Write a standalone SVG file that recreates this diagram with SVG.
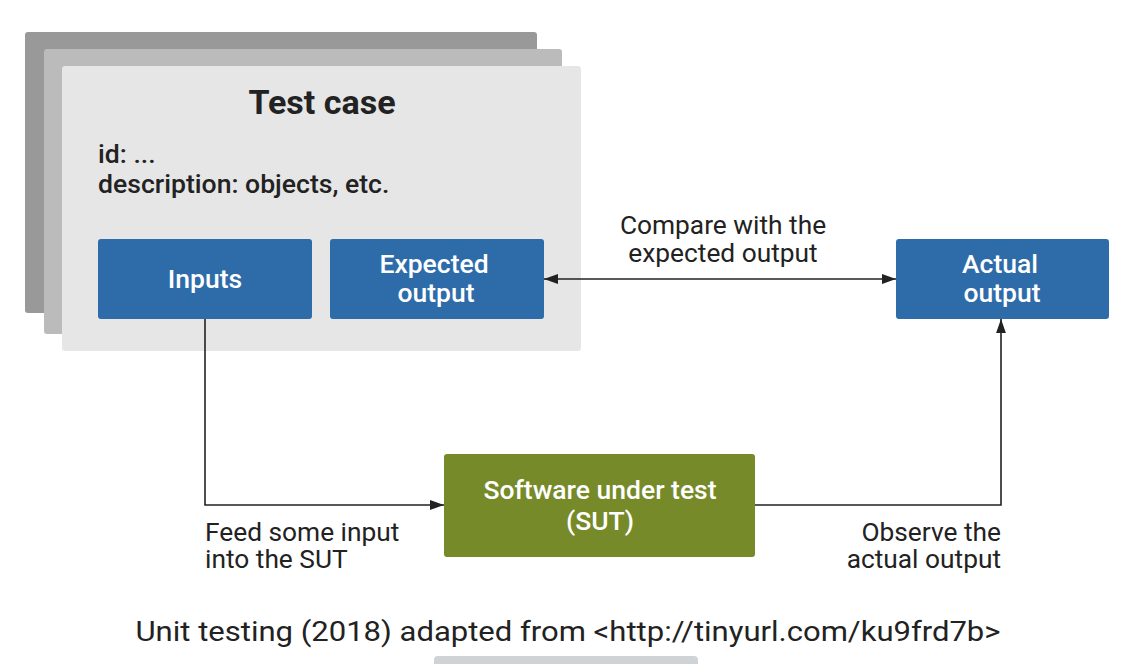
<svg xmlns="http://www.w3.org/2000/svg" width="1136" height="664" viewBox="0 0 1136 664">
<defs>
<style>
text{font-family:Roboto,"Liberation Sans",sans-serif;}
.box{fill:#2e6ca9;}
.wt{fill:#ffffff;font-size:26.5px;font-weight:500;text-anchor:middle;}
.lbl{fill:#222222;font-size:26.3px;}
.meta{fill:#222222;font-size:26.6px;font-weight:500;}
.edge{fill:none;stroke:#222222;stroke-width:1.6;}
</style>
<marker id="ah" viewBox="0 0 10 10" refX="10" refY="5" markerWidth="14" markerHeight="14" markerUnits="userSpaceOnUse" orient="auto-start-reverse">
<path d="M0,1.5 L10,5 L0,8.5 z" fill="#222222"/>
</marker>
</defs>
<rect width="1136" height="664" fill="#ffffff"/>
<g id="testcase-stack">
<rect x="25" y="32" width="512" height="281" rx="3" fill="#999999"/>
<rect x="44" y="49" width="518" height="285" rx="3" fill="#bbbbbb"/>
<rect x="62" y="66" width="519" height="285" rx="3" fill="#e6e6e6"/>
<text x="322" y="114" text-anchor="middle" font-size="34" font-weight="700" fill="#222222">Test case</text>
<text class="meta" x="98" y="163">id: ...</text>
<text class="meta" x="98" y="193">description: objects, etc.</text>
</g>
<g id="inputs">
<rect class="box" x="98" y="239" width="214" height="80" rx="3"/>
<text class="wt" x="205" y="288">Inputs</text>
</g>
<g id="expected-output">
<rect class="box" x="330" y="239" width="214" height="80" rx="3"/>
<text class="wt" x="434" y="273">Expected</text>
<text class="wt" x="436" y="302">output</text>
</g>
<g id="actual-output">
<rect class="box" x="896" y="239" width="213" height="80" rx="3"/>
<text class="wt" x="1000" y="273">Actual</text>
<text class="wt" x="1002" y="302">output</text>
</g>
<g id="sut">
<rect x="444" y="454" width="311" height="103" rx="3" fill="#778a29"/>
<text class="wt" x="600" y="499">Software under test</text>
<text class="wt" x="600" y="530">(SUT)</text>
</g>
<g id="connectors">
<path class="edge" d="M205,319 V505 H444" marker-end="url(#ah)"/>
<path class="edge" d="M755,505 H1001 V319" marker-end="url(#ah)"/>
<path class="edge" d="M544,279 H896" marker-start="url(#ah)" marker-end="url(#ah)"/>
</g>
<g id="labels">
<text class="lbl" x="723" y="234" text-anchor="middle">Compare with the</text>
<text class="lbl" x="723" y="262" text-anchor="middle">expected output</text>
<text class="lbl" x="205" y="541">Feed some input</text>
<text class="lbl" x="205" y="568">into the SUT</text>
<text class="lbl" x="1001" y="541" text-anchor="end">Observe the</text>
<text class="lbl" x="1001" y="568" text-anchor="end">actual output</text>
</g>
<text x="568" y="641" text-anchor="middle" font-size="28" fill="#222222" textLength="865" lengthAdjust="spacingAndGlyphs">Unit testing (2018) adapted from &lt;http://tinyurl.com/ku9frd7b&gt;</text>
<rect x="434" y="656" width="264" height="14" rx="4" fill="#d0d3d6"/>
</svg>
